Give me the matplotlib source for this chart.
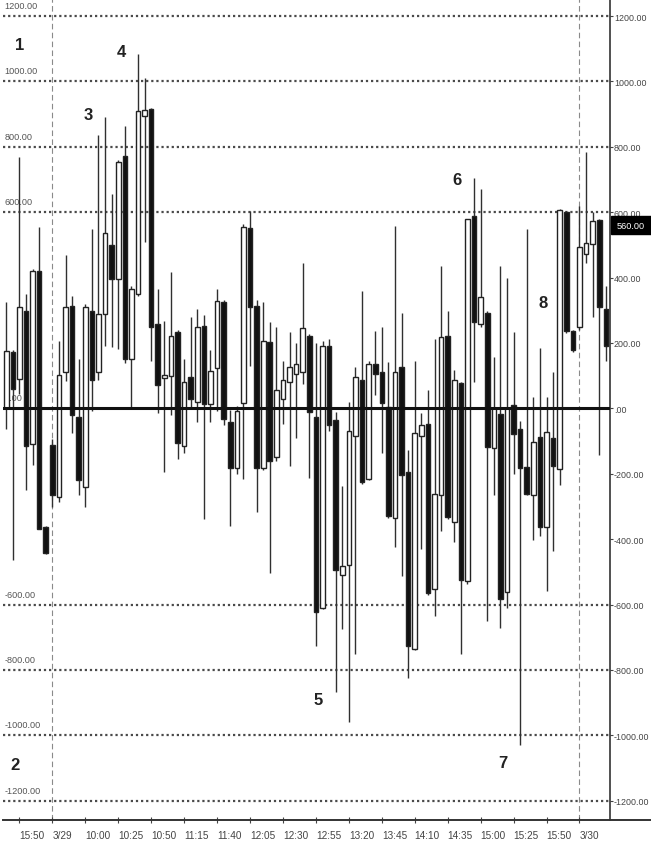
import matplotlib
matplotlib.use("Agg")
import matplotlib.pyplot as plt
from matplotlib.patches import Rectangle
from matplotlib.lines import Line2D

plt.rcParams['font.family'] = ['Liberation Sans', 'DejaVu Sans']

# ---- data (5-minute bars) ----
opens = [0, 173, 89, 299, -110, 421, -363, -112, -270, 110,
         312, -27, -241, 299, 110, 290, 500, 395, 772, 150,
         350, 895, 915, 257, 92, 100, 233, -115, 95, 20,
         252, 14, 122, 324, -42, -183, 15, 553, 312, -183,
         204, -150, 28, 80, 105, 110, 222, -27, -610, 190,
         -36, -510, -480, -84, 88, -215, 135, 110, 5, -335,
         125, -196, -735, -84, -48, -552, -265, 222, -348, 78,
         -527, 588, 258, 293, -122, -18, -563, 10, -62, -180,
         -265, -88, -364, -90, -186, 600, 237, 250, 472, 502,
         575, 304]
highs = [324, 180, 768, 350, 425, 556, -360, -95, 207, 470,
         345, 151, 318, 550, 835, 890, 655, 760, 864, 375,
         1085, 1010, 918, 365, 268, 416, 240, 150, 280, 305,
         285, 178, 365, 330, -5, 8, 565, 605, 331, 324,
         263, 248, 145, 234, 200, 445, 228, 200, 205, 212,
         -10, -238, 20, 128, 360, 145, 236, 248, 142, 558,
         292, -128, 145, -15, 57, 213, 435, 297, 118, 82,
         580, 705, 670, 298, 157, 435, 400, 233, -40, 550,
         34, 184, 34, 110, 610, 605, 240, 618, 785, 600,
         578, 375]
lows = [-62, -465, 45, -250, -172, -370, -445, -303, -285, 85,
        -76, -265, -302, -8, 88, 190, 188, 183, 140, 0,
        345, 510, 145, -14, -195, -20, -156, -136, 5, -41,
        -338, -41, -7, -50, -360, -200, -215, 130, -317, -190,
        -505, -160, -48, -175, -92, 74, -212, -728, -615, -70,
        -868, -675, -958, -750, -230, -220, 40, -138, -335, -424,
        -512, -825, -740, -430, -570, -636, -374, -338, -408, -750,
        -537, 82, 250, -650, -265, -672, -610, -200, -1030, -265,
        -403, -390, -560, -437, -234, 230, 172, 240, 445, 280,
        -142, 145]
closes = [175, 59, 309, -115, 420, -368, -443, -265, 102, 309,
          -20, -218, 310, 88, 289, 535, 395, 752, 152, 365,
          910, 912, 250, 72, 102, 222, -107, 80, 28, 250,
          12, 115, 328, -34, -183, -8, 555, 309, -183, 207,
          -162, 55, 86, 125, 135, 245, -12, -622, 192, -52,
          -494, -482, -68, 95, -225, 137, 105, 15, -330, 110,
          -205, -726, -74, -52, -566, -262, 218, -333, 88, -525,
          578, 263, 340, -118, 2, -582, 0, -78, -182, -262,
          -102, -362, -72, -175, 607, 238, 177, 492, 507, 574,
          309, 192]

tick_pos = [2, 7, 12, 17, 22, 27, 32, 37, 42, 47, 52, 57, 62, 67, 72, 77, 82, 87]
tick_labels = ['15:50', '3/29', '10:00', '10:25', '10:50', '11:15', '11:40', '12:05',
               '12:30', '12:55', '13:20', '13:45', '14:10', '14:35', '15:00', '15:25',
               '15:50', '3/30']
session_breaks = [7, 87]

grid_levels = [1200, 1000, 800, 600, -600, -800, -1000, -1200]
left_labels = ['1200.00', '1000.00', '800.00', '600.00', '-600.00', '-800.00', '-1000.00', '-1200.00']
right_ticks = [1200, 1000, 800, 600, 400, 200, 0, -200, -400, -600, -800, -1000, -1200]
right_labels = ['1200.00', '1000.00', '800.00', '600.00', '400.00', '200.00', '.00',
                '-200.00', '-400.00', '-600.00', '-800.00', '-1000.00', '-1200.00']
last_value = 560
last_label = '560.00'

marks = ['1', '2', '3', '4', '5', '6', '7', '8']
mark_x = [2.1, 1.3, 12.4, 17.4, 47.3, 68.4, 75.4, 81.5]
mark_y = [1114, -1088, 900, 1092, -889, 701, -1082, 325]

# ---- figure ----
W, H = 651, 845
fig = plt.figure(figsize=(W / 100, H / 100), dpi=100)
fig.patch.set_facecolor('white')
ax = fig.add_axes([3 / W, 24 / H, 607 / W, 821 / H])
ax.set_xlim(-0.49, 91.63)
ax.set_ylim(-1259, 1252)

# grid
for g in grid_levels:
    ax.axhline(g, color='#4a4a4a', lw=1.6, ls=(0, (1.0, 1.3)), zorder=1)
for b in session_breaks:
    ax.axvline(b, color='#8a8a8a', lw=0.8, ls=(0, (5, 3)), zorder=1)

# candles
xs = list(range(len(opens)))
for i in xs:
    ax.vlines(i, lows[i], highs[i], color='#303030', lw=1.0, zorder=2)
bw = 0.7
for i in xs:
    o, c = opens[i], closes[i]
    bottom = min(o, c)
    height = max(abs(c - o), 6)
    fc = 'white' if c >= o else '#111111'
    ax.bar(i, height, bottom=bottom, width=bw, color=fc, edgecolor='#222222',
           linewidth=1.0, zorder=3)

ax.axhline(0, color='#111111', lw=2.2, zorder=4)

# left labels inside plot
for g, lab in zip(grid_levels, left_labels):
    ax.text(-0.3, g + 32, lab, fontsize=6.6, color='#555555', ha='left', va='center', zorder=5)
ax.text(-0.3, 34, '0.00', fontsize=6.6, color='#555555', ha='left', va='center', zorder=1)

# annotations
for m, mx, my in zip(marks, mark_x, mark_y):
    ax.text(mx, my, m, fontsize=12, fontweight='bold', color='#222222',
            ha='center', va='center', zorder=6)

# axes styling
for s in ['left', 'top', 'bottom']:
    ax.spines[s].set_visible(False)
ax.spines['right'].set_color('#333333')
ax.spines['right'].set_linewidth(1.2)
ax.yaxis.tick_right()
ax.set_yticks(right_ticks)
ax.set_yticklabels(right_labels)
ax.tick_params(axis='y', direction='out', length=2, width=0.8, colors='#444444',
               labelsize=6.4, pad=0.8)
ax.set_xticks(tick_pos)
ax.set_xticklabels(tick_labels)
for t in ax.get_xticklabels():
    t.set_ha('left')
ax.tick_params(axis='x', direction='inout', length=4, width=0.8, colors='#444444',
               labelsize=7.2, pad=5)

# bottom axis line spanning to right edge
fig.add_artist(Line2D([3 / W, 1.0], [24 / H, 24 / H], color='#333333', lw=1.4,
                      transform=fig.transFigure))

# last value box
yb = 24 + (last_value + 1259) / (1252 + 1259) * 821
fig.add_artist(Rectangle((611 / W, (yb - 9) / H), 40 / W, 18 / H, transform=fig.transFigure,
                         facecolor='black', edgecolor='black'))
fig.text(631 / W, yb / H, last_label, color='white', fontsize=6.6, ha='center', va='center')

fig.savefig('out.png', dpi=100)
